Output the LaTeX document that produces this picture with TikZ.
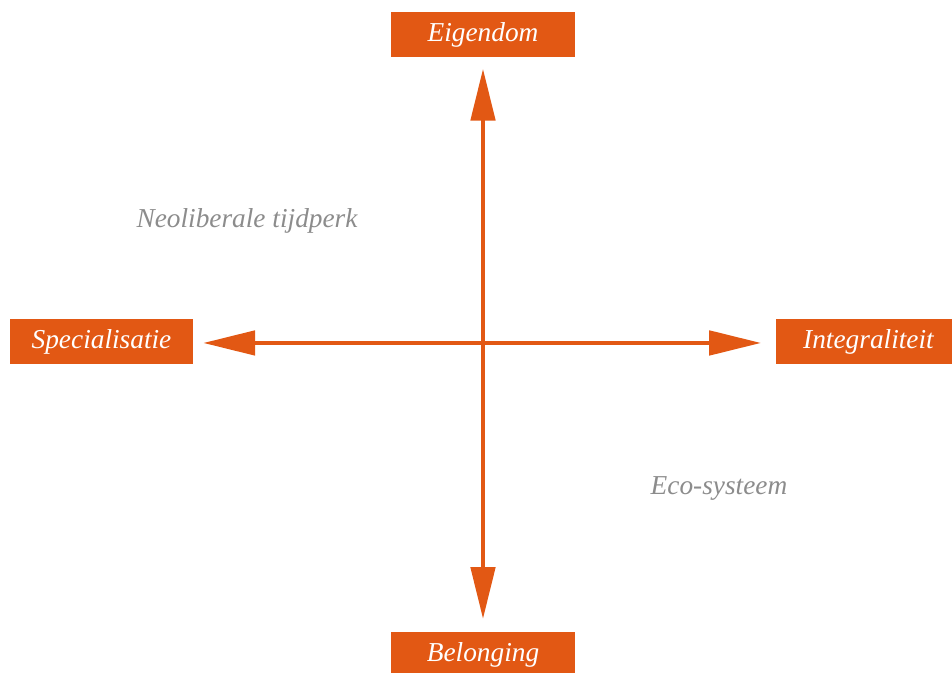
\documentclass[tikz,border=0pt]{standalone}
\usepackage{fontspec}
\setmainfont{Liberation Serif}
\usepackage{xcolor}
\usepackage{tikz}
\usetikzlibrary{arrows.meta}

\definecolor{axisorange}{RGB}{226,88,20}
\definecolor{quadgrey}{RGB}{140,140,140}

\begin{document}
\begin{tikzpicture}[x=0.75pt,y=-0.75pt,
	pole/.style={fill=axisorange,text=white,inner sep=0pt,minimum width=138.5pt,minimum height=33.75pt,font=\fontsize{20.5}{24}\selectfont\itshape},
	quadrant/.style={text=quadgrey,font=\fontsize{20.5}{24}\selectfont\itshape},
	axis/.style={axisorange,line width=3.6pt,{Triangle[length=39pt,width=18pt]}-{Triangle[length=39pt,width=18pt]}}]
	\useasboundingbox (0,0) rectangle (952,673);
	
	\node[pole] (eig) at (483,34.5) {Eigendom};
	\node[pole] (bel) at (483,654.5) {Belonging};
	\node[pole,minimum width=137pt] (spec) at (101.5,341.5) {Specialisatie};
	\node[pole] (integ) at (868.5,341.5) {Integraliteit};
	
	\draw[axis,shorten <=8.5pt,shorten >=9.5pt] (eig) -- (bel);
	\draw[axis,shorten <=7.5pt,shorten >=11pt] ([yshift=-1.1pt]spec.east) -- ([yshift=-1.1pt]integ.west);
	
	\node[quadrant] (neo) at (247,221) {Neoliberale tijdperk};
	\node[quadrant] (eco) at (719,488) {Eco-systeem};
\end{tikzpicture}
\end{document}
